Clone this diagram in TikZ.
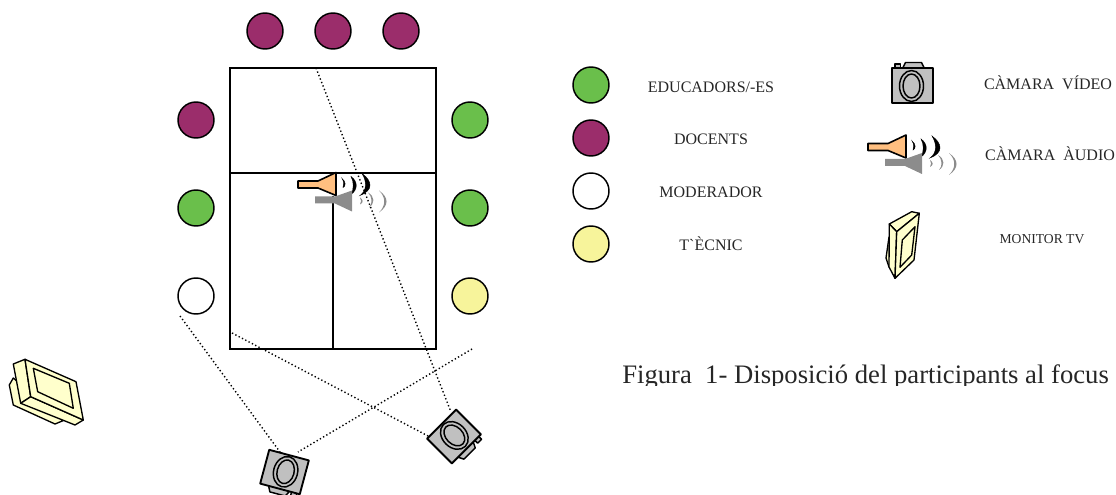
\documentclass[tikz,border=0pt]{standalone}
\usepackage{fontspec}
\setmainfont{Liberation Serif}
\definecolor{educolor}{HTML}{6ABF4B}
\definecolor{doccolor}{HTML}{9B2D6B}
\definecolor{teccolor}{HTML}{F7F49B}
\definecolor{camcolor}{HTML}{C0C0C0}
\definecolor{miccolor}{HTML}{FFBF80}
\definecolor{moncolor}{HTML}{FFFFCC}
\definecolor{spkcolor}{HTML}{8C8C8C}
\definecolor{txtcolor}{HTML}{262626}
\tikzset{
  person/.style={draw,circle,minimum size=27pt,inner sep=0pt,line width=1.1pt},
  edu/.style={person,fill=educolor},
  doc/.style={person,fill=doccolor},
  mod/.style={person,fill=white},
  tec/.style={person,fill=teccolor},
  legend/.style={font=\fontsize{12}{14}\selectfont,text=txtcolor},
  sight/.style={dash pattern=on 1pt off 1.8pt,line width=1.05pt},
  part/.style={draw,line width=1.1pt,line join=round},
  pics/camera/.style={code={
    \draw[part,fill=camcolor] (-10,-17) -- (-7,-23) -- (9,-23) -- (12,-17) -- cycle;
    \draw[part,fill=camcolor] (-17.5,-17) rectangle (-12,-21.5);
    \draw[part,line width=1.4pt,fill=camcolor] (-20.5,-17.5) rectangle (20.5,17.5);
    \draw[part,fill=camcolor] (-1,.5) ellipse (12 and 15.5);
    \draw[part,fill=camcolor] (-1,.5) ellipse (8.5 and 12);
  }},
  pics/mic/.style={code={
    % horn and its waves
    \draw[part,line width=1.2pt,fill=miccolor] (0,-3.5) -- (20,-3.5) -- (38,-12) -- (38,11) -- (20,3.5) -- (0,3.5) -- cycle;
    \draw[line width=.3pt,fill=black] (44,-6) .. controls (48,-3) and (48,2) .. (45,3) .. controls (46,0) and (46,-3) .. cycle;
    \draw[line width=.3pt,fill=black] (53,-8) .. controls (60,-3) and (60,5) .. (53,10) .. controls (56,5) and (56,-3) .. cycle;
    \draw[line width=.3pt,fill=black] (64,-11) .. controls (75,-3) and (75,6) .. (62,11) .. controls (69,6) and (69,-3) .. cycle;
    % grey copy below
    \fill[spkcolor] (17,12) -- (37,12) -- (54,6) -- (54,27) -- (37,19) -- (17,19) -- cycle;
    \fill[spkcolor] (62,13) .. controls (65,15) and (66,18) .. (62,20) .. controls (64,18) and (63,15) .. cycle;
    \fill[spkcolor] (70,8) .. controls (77,12) and (77,19) .. (71,23) .. controls (75,19) and (74,12) .. cycle;
    \fill[spkcolor] (81,6) .. controls (91,13) and (91,21) .. (81,28) .. controls (88,21) and (88,13) .. cycle;
  }}
}
\begin{document}
\begin{tikzpicture}[x=.75pt,y=-.75pt]
\useasboundingbox (0,0) rectangle (1116,495);
\clip (0,0) rectangle (1116,495);

% Define the corners of the table
\path (230,68) coordinate (T0);
\path (436,349) coordinate (T1);
\path (230,173) coordinate (M0);
\path (436,173) coordinate (M1);
\path (333,196) coordinate (V0);
\path (333,349) coordinate (V1);

% Draw the table
\draw[line width=1.1pt] (T0) rectangle (T1);
\draw[line width=1.1pt] (M0) -- (M1);
\draw[line width=1.1pt] (V0) -- (V1);

% Seats round the table
\node[doc] (top1) at (265,31) {};
\node[doc] (top2) at (333,31) {};
\node[doc] (top3) at (401,31) {};
\node[doc] (left1) at (196,120) {};
\node[edu] (left2) at (196,208) {};
\node[mod] (left3) at (196,296) {};
\node[edu] (right1) at (470,120) {};
\node[edu] (right2) at (470,208) {};
\node[tec] (right3) at (470,296) {};

% Microphone on the table
\pic at (298,184.5) {mic};

% Legend
\node[edu] (keyedu) at (591,85) {};
\node[doc] (keydoc) at (591,138) {};
\node[mod] (keymod) at (591,191) {};
\node[tec] (keytec) at (591,244) {};
\node[legend] (labedu) at (711,87) {EDUCADORS/-ES};
\node[legend] (labdoc) at (711,139) {DOCENTS};
\node[legend] (labmod) at (711,192) {MODERADOR};
\node[legend] (labtec) at (711,244) {T\textasciigrave ÈCNIC};
\node[legend] (labcam) at (1048,83) {CÀMARA\ \ VÍDEO};
\node[legend] (labmic) at (1050,154) {CÀMARA\ \ ÀUDIO};
\node[legend,font=\fontsize{10.2}{12}\selectfont] (labmon) at (1042,239) {MONITOR TV};
\pic at (912.5,85.5) {camera};
\pic at (868,147) {mic};

% Legend monitor
\begin{scope}[line width=1pt,line join=round]
\draw[fill=moncolor] (889,237) -- (886,258) -- (889,267) -- (895,270) -- cycle;
\draw[fill=moncolor] (889.3,224) -- (911.7,211.7) -- (919.3,213.3) -- (896.7,231.7) -- cycle;
\draw[fill=moncolor] (889.3,224) -- (896.7,231.7) -- (895,278.3) -- (889,267) -- cycle;
\draw[fill=moncolor] (896.7,231.7) -- (919.3,213.3) -- (914,260) -- (895,278.3) -- cycle;
\draw[fill=moncolor] (902.3,240) -- (915,226.7) -- (911.7,255) -- (900,267.3) -- cycle;
\end{scope}

% Monitor in the room
\begin{scope}[line width=1pt,line join=round]
\draw[fill=moncolor] (13.3,378) -- (9.3,385) -- (13.3,405) -- (55,424) -- (63,420.7) -- cycle;
\draw[fill=moncolor] (13.3,364) -- (25,359.3) -- (30.7,396.7) -- (20.7,403.3) -- cycle;
\draw[fill=moncolor] (20.7,403.3) -- (30.7,396.7) -- (83.3,420) -- (75,425) -- cycle;
\draw[fill=moncolor] (25,359.3) -- (76,381.7) -- (83.3,420) -- (30.7,396.7) -- cycle;
\draw[fill=moncolor] (33.3,368.3) -- (69.3,383.3) -- (73.3,408.3) -- (37.7,391.7) -- cycle;
\end{scope}

% Cameras and what they see
\pic[rotate=-195] at (284.5,472) {camera};
\pic[rotate=-135] at (454,436.5) {camera};
\path (180,316) coordinate (S0);
\path (280,452) coordinate (S1);
\path (472,349) coordinate (S2);
\path (298,452) coordinate (S3);
\path (232,333) coordinate (S4);
\path (430,437) coordinate (S5);
\path (316,68) coordinate (S6);
\path (451,412) coordinate (S7);
\draw[sight] (S0) -- (S1) (S2) -- (S3) (S4) -- (S5) (S6) -- (S7);

% Caption, cut off under its base line
\begin{scope}
\clip (600,355) rectangle (1116,385);
\node[font=\fontsize{20}{24}\selectfont,text=txtcolor,anchor=base west,inner sep=0pt] (caption) at (622,383) {Figura\ \ 1- Disposició del participants al focus};
\end{scope}
\end{tikzpicture}
\end{document}
